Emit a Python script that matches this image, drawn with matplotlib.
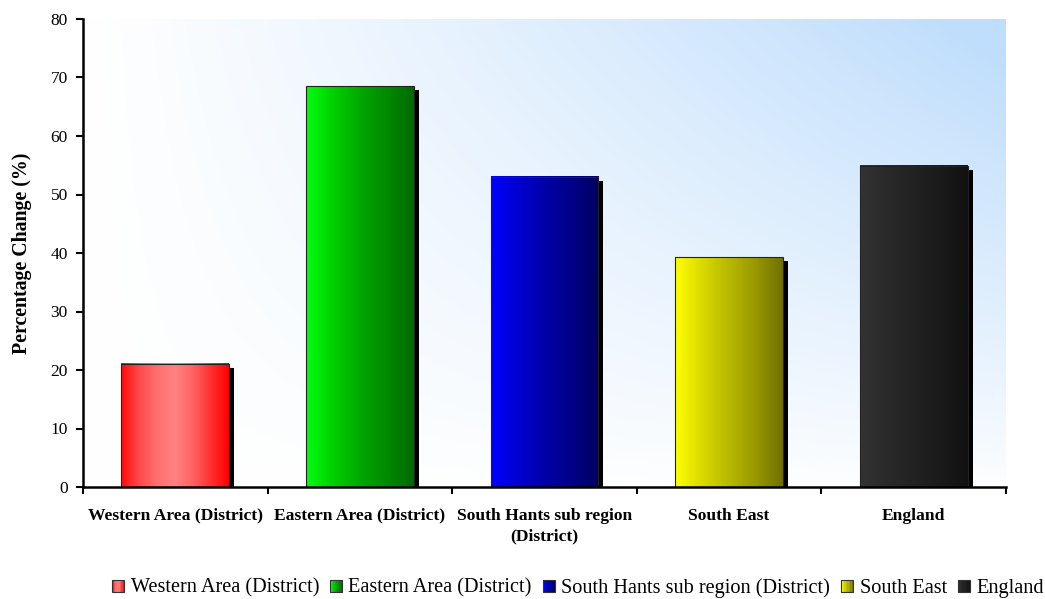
import numpy as np
import matplotlib
matplotlib.use("Agg")
import matplotlib.pyplot as plt
from matplotlib.colors import LinearSegmentedColormap
from matplotlib.patches import Rectangle
from matplotlib.legend_handler import HandlerBase

categories = ["Western Area (District)", "Eastern Area (District)",
              "South Hants sub region (District)", "South East", "England"]
tick_labels = ["Western Area (District)", "Eastern Area (District)",
               "South Hants sub region\n(District)", "South East", "England"]
values = [21.1, 68.5, 53.0, 39.3, 54.9]
gradients = [
    ["#ff0a0a", "#ff4a4a", "#ff7070", "#ff8282", "#ff6262", "#ff3030", "#ff0000"],
    ["#00ff10", "#00d000", "#00a800", "#008a00", "#006a00"],
    ["#0000ff", "#0000d0", "#0000a8", "#000088", "#000060"],
    ["#ffff00", "#dada00", "#b8b800", "#989800", "#707000"],
    ["#333333", "#2a2a2a", "#222222", "#1a1a1a", "#111111"],
]

plt.rcParams['font.family'] = ['Liberation Serif', 'DejaVu Serif']

fig = plt.figure(figsize=(10.45, 5.99), dpi=100)
ax = fig.add_axes([83/1045, 1 - 487/599, 923/1045, 468/599])

xlim = (-0.5, len(values) - 0.5)
ylim = (0, 80)
ax.set_xlim(*xlim)
ax.set_ylim(*ylim)

# background gradient (white bottom-left to light blue top-right)
nx, ny = 300, 200
gx = np.linspace(0, 1, nx)[None, :]
gy = np.linspace(0, 1, ny)[:, None]
f = np.clip((gx ** 1.1) * (gy ** 0.85) * 1.05 + 0.02 * gx, 0, 1)
blue = np.array([0.75, 0.87, 0.99])
white = np.array([1.0, 1.0, 1.0])
bg = white[None, None, :] + (blue - white)[None, None, :] * f[:, :, None]
ax.imshow(bg, extent=[xlim[0], xlim[1], ylim[0], ylim[1]], origin='lower',
          aspect='auto', zorder=0, interpolation='bicubic')

width = 0.585
px_x = (xlim[1] - xlim[0]) / 923.0
px_y = (ylim[1] - ylim[0]) / 468.0
for i, (v, g) in enumerate(zip(values, gradients)):
    x0 = i - width / 2
    # shadow
    ax.add_patch(Rectangle((x0 + 5 * px_x, 0), width, v - 4 * px_y,
                           facecolor='black', edgecolor='none', zorder=2))
    cmap = LinearSegmentedColormap.from_list(f"g{i}", g)
    grad = np.linspace(0, 1, 256)[None, :]
    ax.imshow(grad, cmap=cmap, extent=[x0, x0 + width, 0, v], aspect='auto',
              zorder=3, interpolation='bilinear')
    ax.add_patch(Rectangle((x0, 0), width, v, facecolor='none',
                           edgecolor='#222222', linewidth=0.8, zorder=4))

ax.set_xlim(*xlim)
ax.set_ylim(*ylim)

ax.set_yticks(np.arange(0, 81, 10))
ax.set_xticks(np.arange(-0.5, len(values), 1.0), minor=False)
ax.set_xticklabels([])
ax.set_xticks(np.arange(len(values)), minor=True)
ax.set_xticklabels(tick_labels, minor=True, fontweight='bold', fontsize=12.6)
ax.tick_params(axis='x', which='minor', length=0, pad=15)
ax.tick_params(axis='x', which='major', length=5, width=1.5, direction='out')
ax.tick_params(axis='y', length=5, width=1.5, direction='out', labelsize=12.5, pad=6)
for lab in ax.get_xticklabels(minor=True):
    lab.set_linespacing(1.35)

for s in ['top', 'right']:
    ax.spines[s].set_visible(False)
for s in ['left', 'bottom']:
    ax.spines[s].set_linewidth(1.8)
    ax.spines[s].set_zorder(6)

ax.set_ylabel("Percentage Change (%)", fontweight='bold', fontsize=14.3, labelpad=13)


class GradHandler(HandlerBase):
    def __init__(self, colors):
        super().__init__()
        self.colors = colors

    def create_artists(self, legend, orig_handle, xdescent, ydescent, width,
                       height, fontsize, trans):
        cmap = LinearSegmentedColormap.from_list("lg", self.colors)
        side = min(width, height) * 1.0
        x0 = -xdescent + (width - side) / 2
        y0 = -ydescent + (height - side) / 2
        arts = []
        n = 8
        for k in range(n):
            arts.append(Rectangle((x0 + side * k / n, y0), side / n, side,
                                  facecolor=cmap((k + 0.5) / n), edgecolor='none',
                                  transform=trans))
        arts.append(Rectangle((x0, y0), side, side, facecolor='none',
                              edgecolor='#333333', linewidth=0.8, transform=trans))
        return arts


handles = [Rectangle((0, 0), 1, 1) for _ in categories]
hmap = {h: GradHandler(g) for h, g in zip(handles, gradients)}
fig.legend(handles, categories, handler_map=hmap, loc='center',
           bbox_to_anchor=(578 / 1045, 1 - 588 / 599), ncol=5, frameon=False,
           fontsize=14.6, handlelength=0.6, handleheight=0.6, handletextpad=0.3,
           columnspacing=0.55, borderpad=0, borderaxespad=0)

fig.savefig("out.png", dpi=100)
